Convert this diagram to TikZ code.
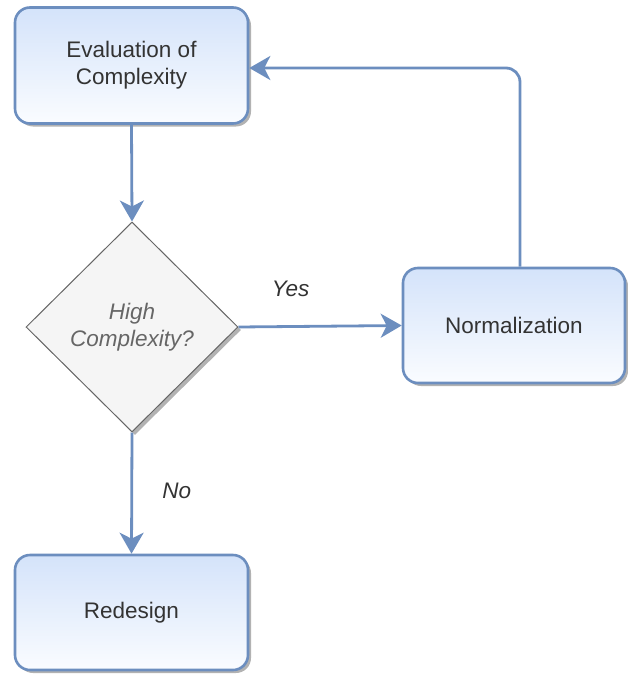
\documentclass[tikz,border=0pt]{standalone}
\usepackage{fontspec}
\setmainfont{Liberation Sans}
\usetikzlibrary{shapes.geometric,arrows.meta,shadows,positioning}
\definecolor{flowline}{HTML}{6C8EBF}
\definecolor{boxtop}{HTML}{D4E3FA}
\definecolor{boxbot}{HTML}{FAFCFF}
\definecolor{txt}{HTML}{333333}
\definecolor{dectxt}{HTML}{666666}
\definecolor{decfill}{HTML}{F5F5F5}
\tikzset{
  procbox/.style={rectangle, rounded corners=15pt, draw=flowline, line width=2.6pt,
    top color=boxtop, bottom color=boxbot, text=txt, align=center,
    font=\fontsize{22.5}{27}\selectfont, inner sep=0pt,
    drop shadow={shadow xshift=3pt, shadow yshift=-3pt, opacity=0.3, fill=black}},
  decbox/.style={diamond, draw=dectxt, line width=1pt, fill=decfill, text=dectxt,
    align=center, font=\fontsize{22.5}{27}\selectfont\itshape, inner sep=0pt,
    minimum width=212pt, minimum height=210pt,
    drop shadow={shadow xshift=3pt, shadow yshift=-3pt, opacity=0.3, fill=black}},
  flow/.style={draw=flowline, line width=2.8pt,
    -{Stealth[length=21pt, width=24pt, inset=6pt]}},
  lbl/.style={text=txt, font=\fontsize{22.5}{27}\selectfont\itshape}
}
\begin{document}
\begin{tikzpicture}[x=1pt, y=-1pt]
  \useasboundingbox (0,0) rectangle (627,677);
  \node[procbox, minimum width=233pt, minimum height=116pt] (eval) at (131.5,65.5) {Evaluation of\\Complexity};
  \node[decbox] (dec) at (132,327) {High\\Complexity?};
  \node[procbox, minimum width=222pt, minimum height=115pt] (norm) at (514,325.5) {Normalization};
  \node[procbox, minimum width=233pt, minimum height=115pt] (red) at (131.5,612.5) {Redesign};

  \coordinate (up) at (520,268);
  \draw[flow] (eval.south) -- (dec.north);
  \draw[flow] (dec.east) -- (norm.west) node[lbl, pos=0.32, above=25pt] {Yes};
  \draw[flow] (dec.south) -- (red.north) node[lbl, pos=0.48, right=26pt] {No};
  \draw[flow, rounded corners=14pt] (norm.north -| up) |- (eval.east |- 0,68);
\end{tikzpicture}
\end{document}
